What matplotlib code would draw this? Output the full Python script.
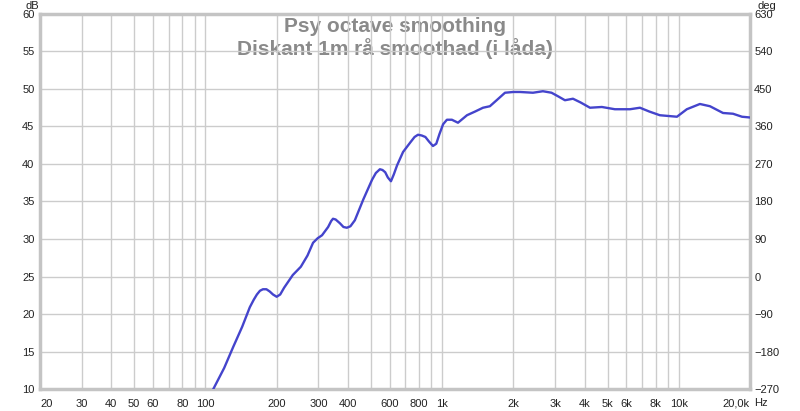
import matplotlib
matplotlib.use("Agg")
import matplotlib.pyplot as plt
from matplotlib.ticker import FixedLocator, NullFormatter

plt.rcParams["font.family"] = ["Liberation Sans", "DejaVu Sans"]

# values
freq_hz = [108, 120, 131, 143, 154, 160, 165, 170, 175, 181, 187, 193, 200,
           207, 215, 234, 253, 270, 285, 298, 311, 330, 340, 346, 355, 370,
           383, 396, 410, 428, 465, 506, 525, 546, 560, 575, 590, 608, 625,
           645, 684, 735, 765, 791, 820, 850, 880, 915, 945, 975, 1010, 1048,
           1100, 1167, 1274, 1380, 1489, 1592, 1700, 1844, 2000, 2133, 2421,
           2667, 2900, 3100, 3304, 3573, 3850, 4216, 4733, 5371, 6223, 6855,
           7500, 8318, 9826, 10817, 12285, 13549, 15381, 16950, 18500, 20000]
spl_db = [10.0, 12.8, 15.6, 18.3, 20.9, 21.9, 22.6, 23.1, 23.3, 23.3, 23.0,
          22.6, 22.3, 22.6, 23.5, 25.2, 26.3, 27.8, 29.5, 30.1, 30.5, 31.6,
          32.4, 32.7, 32.6, 32.1, 31.6, 31.5, 31.7, 32.5, 35.3, 37.9, 38.8,
          39.3, 39.2, 38.9, 38.2, 37.7, 38.6, 39.8, 41.6, 42.9, 43.6, 43.9,
          43.8, 43.6, 43.0, 42.4, 42.7, 44.0, 45.3, 45.9, 45.9, 45.5, 46.5,
          47.0, 47.5, 47.7, 48.5, 49.5, 49.6, 49.6, 49.5, 49.7, 49.5, 49.0,
          48.5, 48.7, 48.2, 47.5, 47.6, 47.3, 47.3, 47.5, 47.0, 46.5, 46.3,
          47.3, 48.0, 47.7, 46.8, 46.7, 46.3, 46.2]

x_ticks = [20, 30, 40, 50, 60, 80, 100, 200, 300, 400, 600, 800, 1000,
           2000, 3000, 4000, 5000, 6000, 8000, 10000, 20000]
x_labels = ["20", "30", "40", "50", "60", "80", "100", "200", "300", "400",
            "600", "800", "1k", "2k", "3k", "4k", "5k", "6k", "8k", "10k",
            "20,0k"]
x_grid = [m * d for d in (10, 100, 1000, 10000) for m in range(2, 11)
          if 20 <= m * d <= 20000]
db_ticks = [10, 15, 20, 25, 30, 35, 40, 45, 50, 55, 60]
deg_ticks = [-270, -180, -90, 0, 90, 180, 270, 360, 450, 540, 630]

title_lines = "Psy octave smoothing\nDiskant 1m rå smoothad (i låda)"

grid_color = "#cccccc"
border_color = "#c4c4c4"
text_color = "#222222"

fig = plt.figure(figsize=(8, 4.11), dpi=100)
ax = fig.add_axes([0.05, 0.0535, 0.8875, 0.9125])

ax.set_xscale("log")
ax.set_xlim(20, 20000)
ax.set_ylim(10, 60)

ax.xaxis.set_major_locator(FixedLocator(x_ticks))
ax.set_xticklabels(x_labels)
ax.xaxis.set_minor_locator(FixedLocator(x_grid))
ax.xaxis.set_minor_formatter(NullFormatter())
ax.set_yticks(db_ticks)

ax.set_axisbelow(True)
ax.grid(True, which="both", axis="x", color=grid_color, linewidth=1)
ax.grid(True, which="major", axis="y", color=grid_color, linewidth=1)

ax.tick_params(axis="both", which="both", length=0, labelsize=8,
               colors=text_color)
ax.tick_params(axis="x", pad=7)
ax.tick_params(axis="y", pad=4)

# first and last frequency labels sit inside the plot edges
xlabels = ax.get_xticklabels()
xlabels[0].set_horizontalalignment("left")
xlabels[-1].set_horizontalalignment("right")

for spine in ax.spines.values():
    spine.set_color(border_color)
    spine.set_linewidth(2.5)

ax.plot(freq_hz, spl_db, color="#4444cc", linewidth=1.7, zorder=3,
        solid_joinstyle="round")

ax.text(0.5, 0.993, title_lines, transform=ax.transAxes, ha="center",
        va="top", fontsize=15, color="#8a8a8a", fontweight="bold",
        linespacing=1.12, zorder=0.2)

ax2 = ax.twinx()
ax2.set_ylim(-270, 630)
ax2.set_yticks(deg_ticks)
ax2.tick_params(axis="y", length=0, labelsize=8, colors=text_color, pad=3)
for spine in ax2.spines.values():
    spine.set_visible(False)

fig.text(25 / 800, 1 - 6 / 411, "dB", fontsize=8, color=text_color,
         ha="left", va="center")
fig.text(757 / 800, 1 - 6 / 411, "deg", fontsize=8, color=text_color,
         ha="left", va="center")
fig.text(754 / 800, 1 - 403 / 411, "Hz", fontsize=8, color=text_color,
         ha="left", va="center")

fig.savefig("out.png", dpi=100)
